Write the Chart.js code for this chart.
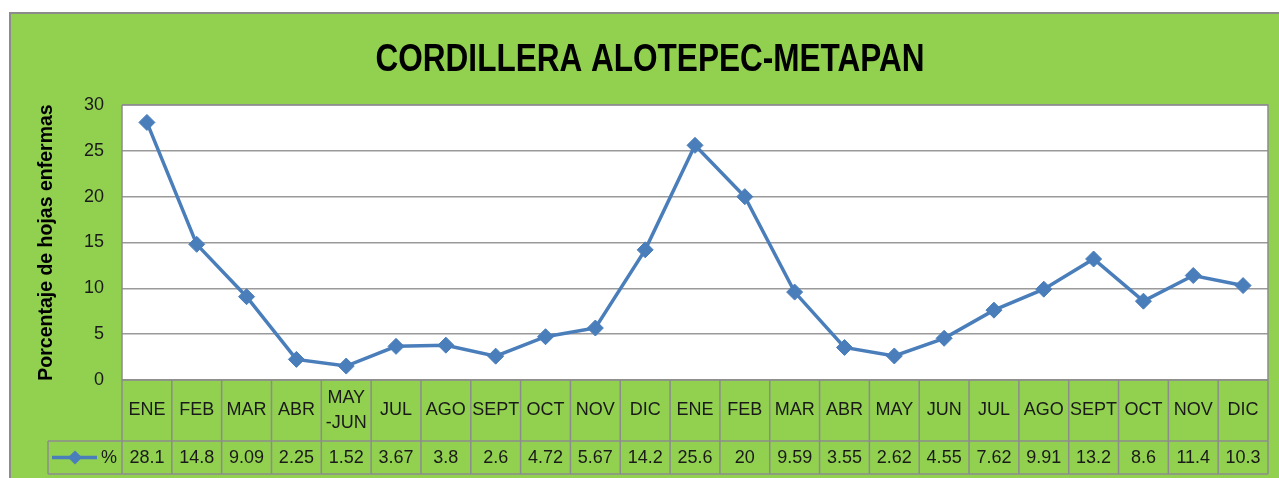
<!DOCTYPE html>
<html>
<head>
<meta charset="utf-8">
<script src="https://cdn.jsdelivr.net/npm/chart.js@4"></script>
<style>
  html, body { margin: 0; padding: 0; background: #fff; }
  #wrap { width: 1279px; height: 478px; }
</style>
</head>
<body>
<div id="wrap"><canvas id="chart"></canvas></div>
<script>
const TITLE = "CORDILLERA ALOTEPEC-METAPAN";
const Y_TITLE = "Porcentaje de hojas enfermas";
const SERIES_NAME = "%";

const categories = ["ENE", "FEB", "MAR", "ABR", ["MAY", "-JUN"], "JUL", "AGO", "SEPT", "OCT", "NOV", "DIC",
  "ENE", "FEB", "MAR", "ABR", "MAY", "JUN", "JUL", "AGO", "SEPT", "OCT", "NOV", "DIC"];
const values = [28.1, 14.8, 9.09, 2.25, 1.52, 3.67, 3.8, 2.6, 4.72, 5.67, 14.2,
  25.6, 20, 9.59, 3.55, 2.62, 4.55, 7.62, 9.91, 13.2, 8.6, 11.4, 10.3];
const yMin = 0, yMax = 30, yStep = 5;

const GREEN = "#92d050";
const BLUE = "#4a7ebb";
const GRID = "#9a9a9a";
const TEXT = "#1a1a1a";
const FONT = "'Liberation Sans', Arial, sans-serif";

// green frame, title, white plot area
const background = {
  id: "background",
  beforeDraw(chart) {
    const { ctx, chartArea: a } = chart;
    ctx.save();
    ctx.fillStyle = "#fff";
    ctx.fillRect(0, 0, chart.width, chart.height);
    ctx.fillStyle = GREEN;
    ctx.fillRect(10, 13, chart.width - 10, chart.height - 13);
    ctx.strokeStyle = "#8c8c8c";
    ctx.lineWidth = 2;
    ctx.beginPath();
    ctx.moveTo(10, chart.height);
    ctx.lineTo(10, 13);
    ctx.lineTo(chart.width, 13);
    ctx.stroke();
    ctx.fillStyle = "#fff";
    ctx.fillRect(a.left, a.top, a.right - a.left, a.bottom - a.top);

    // title is a condensed bold face in the original, so squeeze it a bit
    ctx.font = "bold 38px " + FONT;
    ctx.fillStyle = "#000";
    ctx.textAlign = "center";
    ctx.textBaseline = "alphabetic";
    const tw = ctx.measureText(TITLE).width;
    const sx = Math.min(1, 549 / tw);
    ctx.translate(650, 71);
    ctx.scale(sx, 1);
    ctx.fillText(TITLE, 0, 0);
    ctx.restore();
  }
};

// data table under the plot
const dataTable = {
  id: "dataTable",
  afterDraw(chart) {
    const { ctx, chartArea: a } = chart;
    const x = chart.scales.x;
    const w = (a.right - a.left) / categories.length;
    const row1 = a.bottom, row2 = a.bottom + 61, row3 = a.bottom + 94;
    const legendLeft = 48;

    ctx.save();
    ctx.strokeStyle = "#8c8c8c";
    ctx.lineWidth = 1.5;
    ctx.beginPath();
    ctx.moveTo(a.left, a.top); ctx.lineTo(a.right, a.top);
    ctx.lineTo(a.right, row3);
    ctx.moveTo(a.left, a.top); ctx.lineTo(a.left, row3);
    ctx.moveTo(a.left, row1); ctx.lineTo(a.right, row1);
    ctx.moveTo(legendLeft, row2); ctx.lineTo(a.right, row2);
    ctx.moveTo(legendLeft, row3); ctx.lineTo(a.right, row3);
    ctx.moveTo(legendLeft, row2); ctx.lineTo(legendLeft, row3);
    for (let i = 1; i < categories.length; i++) {
      const bx = a.left + i * w;
      ctx.moveTo(bx, row1); ctx.lineTo(bx, row3);
    }
    ctx.stroke();

    ctx.fillStyle = TEXT;
    ctx.font = "18px " + FONT;
    ctx.textAlign = "center";
    ctx.textBaseline = "middle";
    categories.forEach((c, i) => {
      const cx = x.getPixelForValue(i);
      if (Array.isArray(c)) {
        ctx.fillText(c[0], cx, (row1 + row2) / 2 - 12);
        ctx.fillText(c[1], cx, (row1 + row2) / 2 + 13);
      } else {
        ctx.fillText(c, cx, (row1 + row2) / 2);
      }
      ctx.fillText(String(values[i]), cx, (row2 + row3) / 2 + 1);
    });

    // legend key
    const ly = (row2 + row3) / 2;
    ctx.strokeStyle = BLUE;
    ctx.lineWidth = 3.5;
    ctx.beginPath();
    ctx.moveTo(52, ly); ctx.lineTo(97, ly);
    ctx.stroke();
    ctx.fillStyle = BLUE;
    ctx.beginPath();
    ctx.moveTo(75, ly - 7); ctx.lineTo(82, ly); ctx.lineTo(75, ly + 7); ctx.lineTo(68, ly);
    ctx.closePath();
    ctx.fill();
    ctx.fillStyle = TEXT;
    ctx.fillText(SERIES_NAME, 109, ly + 1);
    ctx.restore();
  }
};

new Chart(document.getElementById("chart"), {
  type: "line",
  data: {
    labels: categories,
    datasets: [{
      label: SERIES_NAME,
      data: values,
      borderColor: BLUE,
      backgroundColor: BLUE,
      borderWidth: 3.5,
      pointStyle: "rectRot",
      pointRadius: 8,
      pointBorderWidth: 1,
      tension: 0
    }]
  },
  options: {
    responsive: true,
    maintainAspectRatio: false,
    animation: false,
    layout: { padding: { left: 10, top: 105, right: 11, bottom: 98 } },
    plugins: {
      legend: { display: false },
      tooltip: { enabled: false },
      title: { display: false }
    },
    scales: {
      x: {
        display: false,
        offset: true
      },
      y: {
        min: yMin,
        max: yMax,
        ticks: { stepSize: yStep, color: TEXT, font: { family: FONT, size: 18 }, padding: 18 },
        border: { display: false },
        grid: { color: GRID, lineWidth: 1.5, drawTicks: false },
        title: {
          display: true,
          text: Y_TITLE,
          color: "#000",
          font: { family: FONT, size: 19.5, weight: "bold" },
          padding: { top: 25, bottom: 0 }
        },
        afterFit(scale) { scale.width = 112; }
      }
    }
  },
  plugins: [background, dataTable]
});
</script>
</body>
</html>
